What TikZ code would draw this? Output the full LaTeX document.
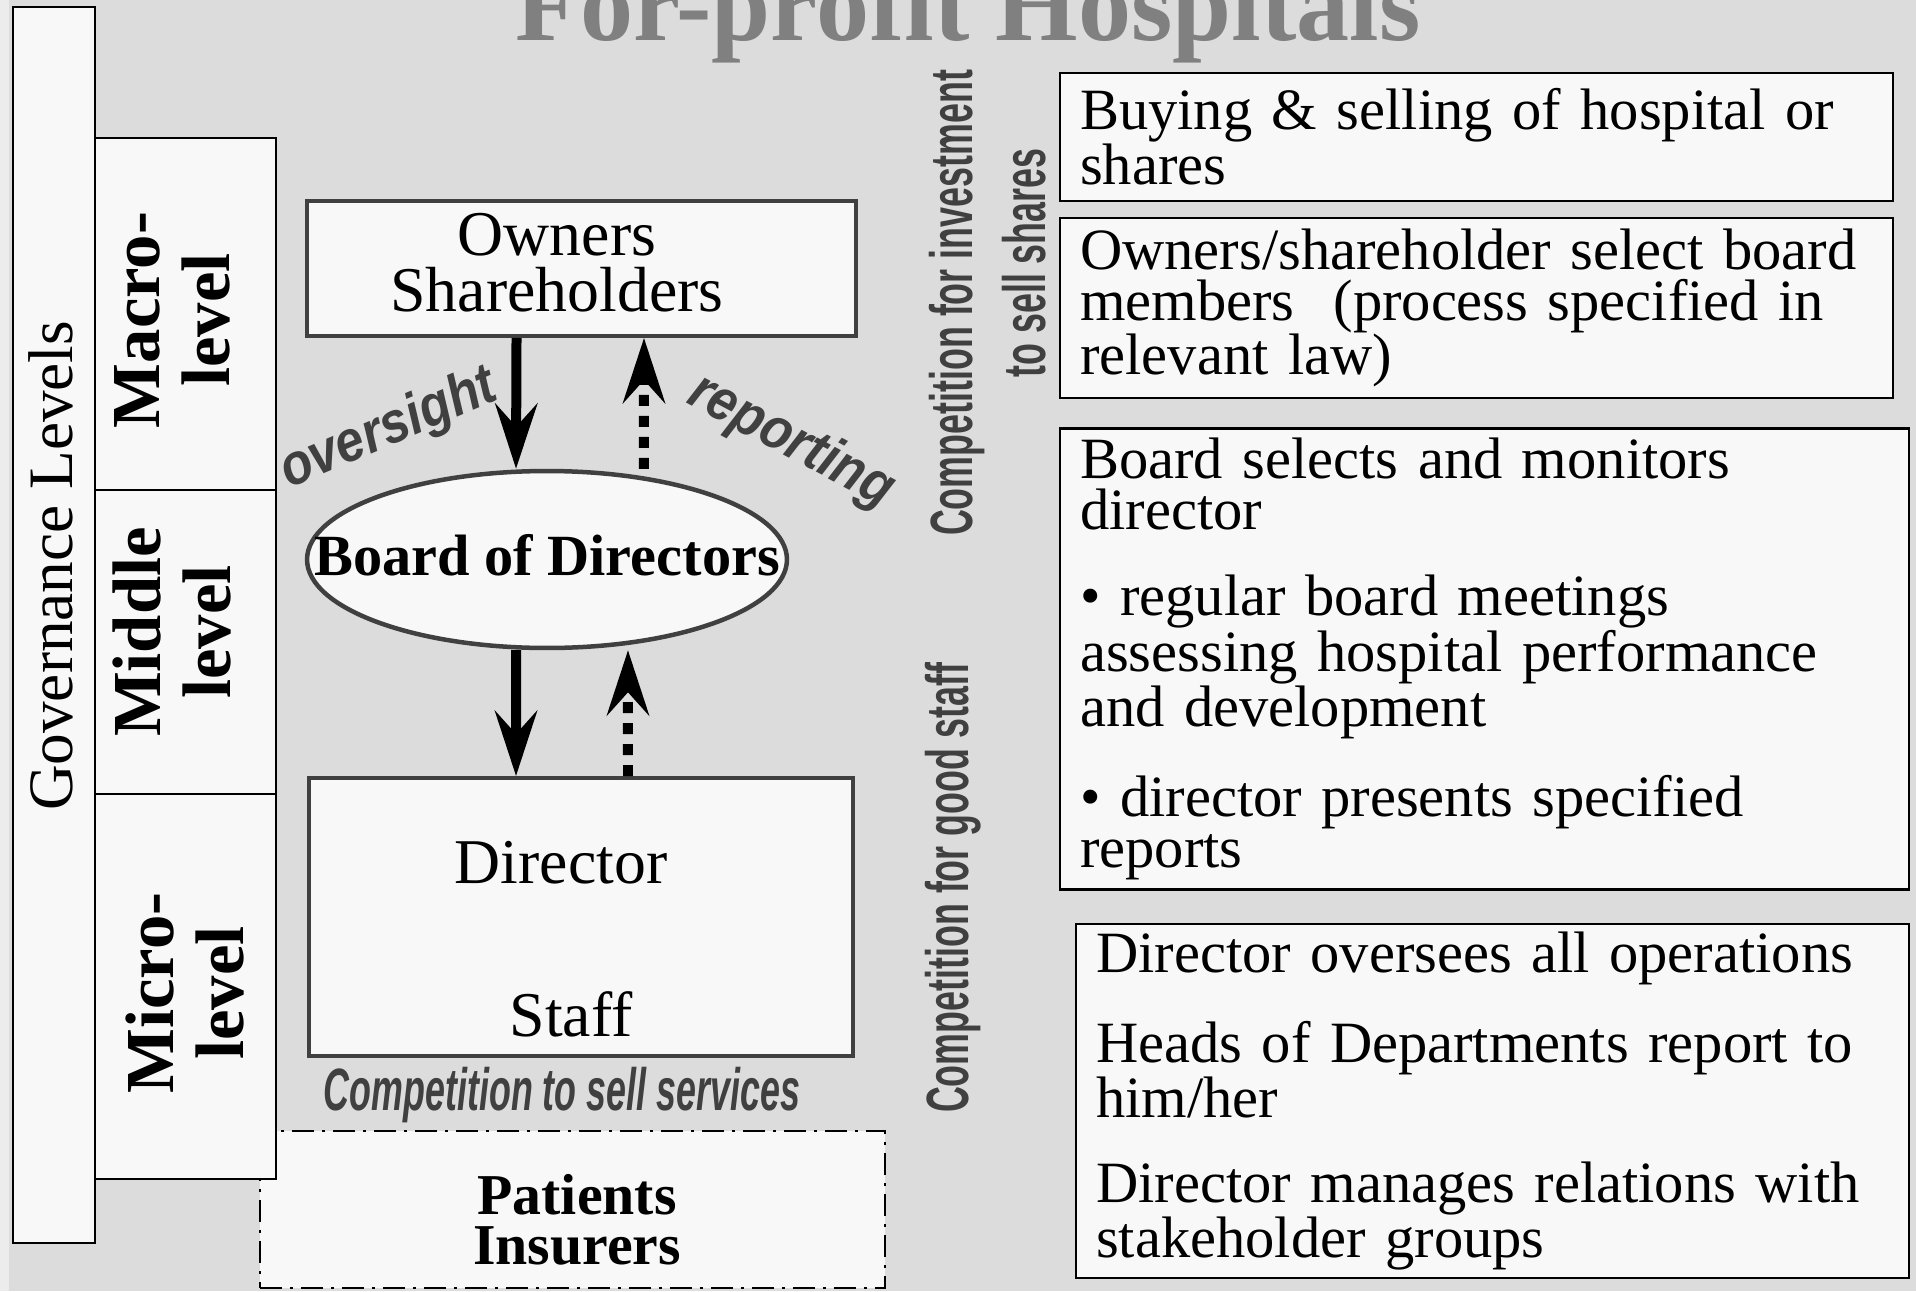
\documentclass[tikz,border=0pt]{standalone}
\usepackage{fontspec}
\setmainfont{Liberation Serif}
\setsansfont{Liberation Sans}
\newfontfamily\narrowsans{Liberation Sans}[FakeStretch=0.6]
\newfontfamily\flowsans{Liberation Sans}[FakeStretch=0.88]
\usetikzlibrary{arrows.meta}
\usetikzlibrary{positioning}
\usetikzlibrary{shapes}
\definecolor{bggray}{HTML}{DCDCDC}
\definecolor{stripgray}{HTML}{ECECEC}
\definecolor{boxfill}{HTML}{F8F8F8}
\definecolor{edgegray}{HTML}{404040}
\definecolor{titlegray}{HTML}{808080}

\begin{document}
\begin{tikzpicture}[x=0.02cm,y=-0.02cm]
        \tikzset{level_box/.style = {draw=black,line width=0.05cm,fill=boxfill,inner sep=0pt}}
        \tikzset{main_box/.style = {draw=edgegray,line width=0.08cm,fill=boxfill,inner sep=0pt}}
        \tikzset{board_shape/.style = {shape=ellipse,draw=edgegray,line width=0.09cm,fill=boxfill,inner sep=0pt}}
        \tikzset{note_box/.style = {draw=black,line width=0.05cm,fill=boxfill,inner xsep=0.4cm,inner ysep=0pt,align=left,font=\fontsize{33.3}{28.9}\selectfont}}
        \tikzset{client_box/.style = {draw=black,line width=0.05cm,fill=boxfill,dash pattern=on 0.44cm off 0.16cm on 0.06cm off 0.16cm}}
        \tikzset{level_text/.style = {rotate=90,align=center,font=\bfseries\fontsize{39.1}{39.7}\selectfont}}
        \tikzset{comp_text/.style = {rotate=90,anchor=base,text=edgegray,font=\narrowsans\bfseries\fontsize{34}{36}\selectfont}}
        \tikzset{flow_text/.style = {text=edgegray,font=\flowsans\bfseries\itshape\fontsize{33}{36}\selectfont}}
        \tikzset{down_edge/.style = {-{Stealth[length=1.3cm,width=0.84cm,inset=0.46cm]},line width=0.2cm,color=black}}
        \tikzset{up_edge/.style = {down_edge,dash pattern=on 0.22cm off 0.2cm}}

        \useasboundingbox (0,0) rectangle (1916,1291);
        \fill[bggray] (0,0) rectangle (1916,1291);
        \fill[stripgray] (0,0) rectangle (9,1291);

        % title, cut at the top edge
        \node[anchor=base,text=titlegray,font=\bfseries\fontsize{60.4}{62}\selectfont] (title) at (968,41) {For-profit Hospitals};

        % governance levels
        \node[level_box,minimum width=1.64cm,minimum height=24.72cm] (gov) at (54,625) {};
        \node[rotate=90,anchor=base,font=\fontsize{36}{38}\selectfont] (govtext) at (72,566) {Governance Levels};
        \node[client_box,minimum width=12.5cm,minimum height=3.14cm] (clients) at (572.5,1209.5) {};
        \node[level_box,minimum width=3.62cm,minimum height=7.04cm] (macro) at (185.5,314) {};
        \node[level_box,minimum width=3.62cm,minimum height=6.08cm] (middle) at (185.5,642) {};
        \node[level_box,minimum width=3.62cm,minimum height=7.7cm] (micro) at (185.5,986.5) {};
        \node[level_text] (macrotext) at (172,320) {Macro-\\level};
        \node[level_text] (middletext) at (172,632) {Middle\\level};
        \node[level_text] (microtext) at (185,993) {Micro-\\level};

        % hospital bodies
        \node[main_box,minimum width=10.98cm,minimum height=2.7cm] (owners) at (581.5,268.5) {};
        \node[align=center,font=\fontsize{36.3}{31.7}\selectfont] (ownertext) at (557,263) {Owners\\Shareholders};
        \node[board_shape,minimum width=9.6cm,minimum height=3.54cm] (board) at (547,559.5) {};
        \node[font=\bfseries\fontsize{33.2}{35}\selectfont] (boardtext) at ([yshift=0.08cm]board.center) {Board of Directors};
        \node[main_box,minimum width=10.88cm,minimum height=5.56cm] (director) at (581,917) {};
        \node[anchor=base,font=\fontsize{36.3}{38}\selectfont] (dirtext) at (561,883) {Director};
        \node[anchor=base,font=\fontsize{36.3}{38}\selectfont] (stafftext) at (571,1036) {Staff};
        \node[align=center,font=\bfseries\fontsize{32.9}{28.3}\selectfont] (clienttext) at (577,1220) {Patients\\Insurers};

        \draw[down_edge] ([xshift=-1.3cm]owners.south) -- ([xshift=-0.62cm]board.north);
        \draw[up_edge] ([xshift=1.94cm]board.north) -- ([xshift=1.25cm]owners.south);
        \draw[down_edge] ([xshift=-0.62cm]board.south) -- ([xshift=-1.3cm]director.north);
        \draw[up_edge] ([xshift=0.94cm]director.north) -- ([xshift=1.62cm]board.south);
        \node[flow_text,rotate=23] (oversight) at (389,430) {oversight};
        \node[flow_text,rotate=-28] (reporting) at (791,442) {reporting};

        % competition labels
        \node[comp_text] (compinvest) at (972,303) {Competition for investment};
        \node[comp_text] (compshares) at (1045,263) {to sell shares};
        \node[comp_text] (compstaff) at (968,888) {Competition for good staff};
        \node[anchor=base,text=edgegray,font=\narrowsans\bfseries\itshape\fontsize{34}{36}\selectfont] (compservices) at (562,1110) {Competition to sell services};

        % notes on the right
        \node[note_box,minimum width=16.66cm,minimum height=2.56cm,text width=15.86cm] (buying) at (1476.5,137) {Buying \& selling of hospital or\\shares};
        \node[note_box,minimum width=16.66cm,minimum height=3.6cm,text width=15.86cm] (select) at (1476.5,308) {Owners/shareholder select board\\members~ (process specified in\\relevant law)};
        \node[note_box,minimum width=16.98cm,minimum height=9.22cm,text width=16.18cm] (monitor) at (1484.5,659) {Board selects and monitors\\director\\[0.7cm]\textbullet{} regular board meetings\\assessing hospital performance\\and development\\[0.7cm]\textbullet{} director presents specified\\reports};
        \node[note_box,minimum width=16.66cm,minimum height=7.08cm,text width=15.86cm] (oversees) at (1492.5,1101) {Director oversees all operations\\[0.7cm]Heads of Departments report to\\him/her\\[0.7cm]Director manages relations with\\stakeholder groups};
\end{tikzpicture}
\end{document}
